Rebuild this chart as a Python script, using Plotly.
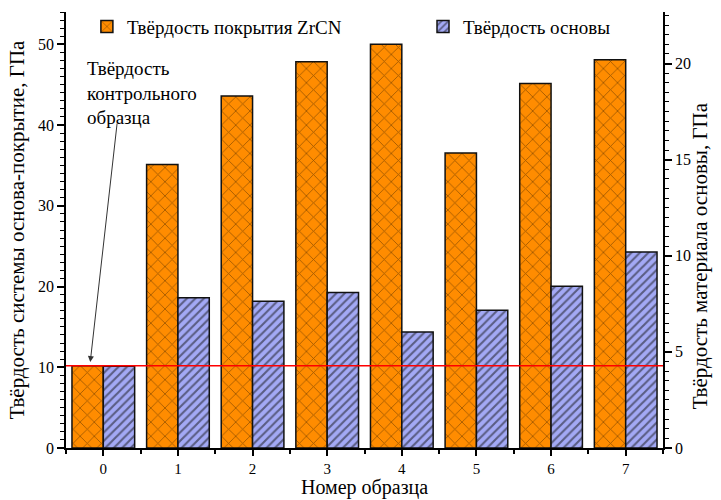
import plotly.graph_objects as go

samples = [0, 1, 2, 3, 4, 5, 6, 7]
tick_labels = ["0", "1", "2", "3", "4", "5", "6", "7"]
coating_hardness = [10.2, 35.1, 43.6, 47.85, 50.0, 36.55, 45.15, 48.1]
substrate_hardness = [4.25, 7.81, 7.64, 8.09, 6.03, 7.17, 8.41, 10.19]
control_level = 10.2

name_coating = "Твёрдость покрытия ZrCN"
name_substrate = "Твёрдость основы"
x_title = "Номер образца"
y_title = "Твёрдость системы основа-покрытие, ГПа"
y2_title = "Твёрдость материала основы, ГПа"
note_text = "Твёрдость<br>контрольного<br>образца"

FONT = "Liberation Serif"
BW = 0.42

fig = go.Figure()
fig.add_trace(go.Bar(
    x=samples, y=coating_hardness, name=name_coating, yaxis="y", legend="legend",
    width=BW, offset=-BW,
    marker=dict(color="#FF8C00", line=dict(color="#111", width=1.5),
                pattern=dict(shape="x", fgcolor="#3a2000", size=10, solidity=0.16)),
))
fig.add_trace(go.Bar(
    x=samples, y=substrate_hardness, name=name_substrate, yaxis="y2", legend="legend2",
    width=BW, offset=0,
    marker=dict(color="#A3A9F5", line=dict(color="#111", width=1.5),
                pattern=dict(shape="/", fgcolor="#111", size=6, solidity=0.35)),
))

fig.add_shape(type="line", xref="paper", x0=0, x1=1, yref="y", y0=control_level, y1=control_level,
              line=dict(color="red", width=1.5), layer="above")

# annotation text
fig.add_annotation(x=-0.24, y=48.6, xref="x", yref="y", text=note_text, showarrow=False,
                   xanchor="left", yanchor="top", align="left",
                   font=dict(family=FONT, size=19, color="black"))
# arrow
fig.add_annotation(x=-0.175, y=control_level + 0.45, xref="x", yref="y", text="",
                   showarrow=True, ax=27, ay=-240, arrowhead=2, arrowsize=1.2,
                   arrowwidth=1, arrowcolor="#333")

# right axis title
fig.add_annotation(xref="paper", yref="paper", x=1.062, y=0.44, text=y2_title, showarrow=False,
                   textangle=-90, xanchor="center", yanchor="middle",
                   font=dict(family=FONT, size=21, color="black"))
# x axis title
fig.add_annotation(xref="paper", yref="paper", x=0.5, y=-0.1193, text=x_title, showarrow=False,
                   xanchor="center", yanchor="bottom", borderpad=0,
                   font=dict(family=FONT, size=20, color="black"))

axis_common = dict(showline=True, linecolor="black", linewidth=1.5, ticks="outside",
                   ticklen=7, tickwidth=1.5, tickcolor="black", showgrid=False, zeroline=False,
                   tickfont=dict(family=FONT, size=16, color="black"))

legend_common = dict(orientation="h", xanchor="left", y=1.01, yanchor="top",
                     bgcolor="rgba(0,0,0,0)", font=dict(family=FONT, size=19), itemclick=False)

x_axis_style = dict(axis_common)
x_axis_style["ticklen"] = 6
x_axis_style["tickfont"] = dict(family=FONT, size=15, color="black")

fig.update_layout(
    width=721, height=500,
    margin=dict(l=66, r=58, t=12, b=52, autoexpand=False),
    plot_bgcolor="white", paper_bgcolor="white",
    barmode="overlay",
    font=dict(family=FONT, size=19, color="black"),
    xaxis=dict(range=[-0.5, 7.5], tickmode="array", tickvals=samples, ticktext=tick_labels,
               minor=dict(tickmode="array", tickvals=[s + 0.5 for s in samples[:-1]] + [-0.5, 7.5],
                          ticks="outside", ticklen=4, tickcolor="black", tickwidth=1.5),
               automargin=False, **x_axis_style),
    yaxis=dict(range=[0, 54], tick0=0, dtick=10,
               minor=dict(dtick=1, ticks="outside", ticklen=4, tickcolor="black", tickwidth=1),
               title=dict(text=y_title, font=dict(family=FONT, size=21), standoff=8),
               automargin=False, **axis_common),
    yaxis2=dict(range=[0, 22.68], tick0=0, dtick=5, overlaying="y", side="right",
                minor=dict(dtick=0.5, ticks="outside", ticklen=4, tickcolor="black", tickwidth=1),
                automargin=False, **axis_common),
    legend=dict(x=0.035, **legend_common),
    legend2=dict(x=0.598, **legend_common),
    showlegend=True,
)

fig.write_html("out.html")
